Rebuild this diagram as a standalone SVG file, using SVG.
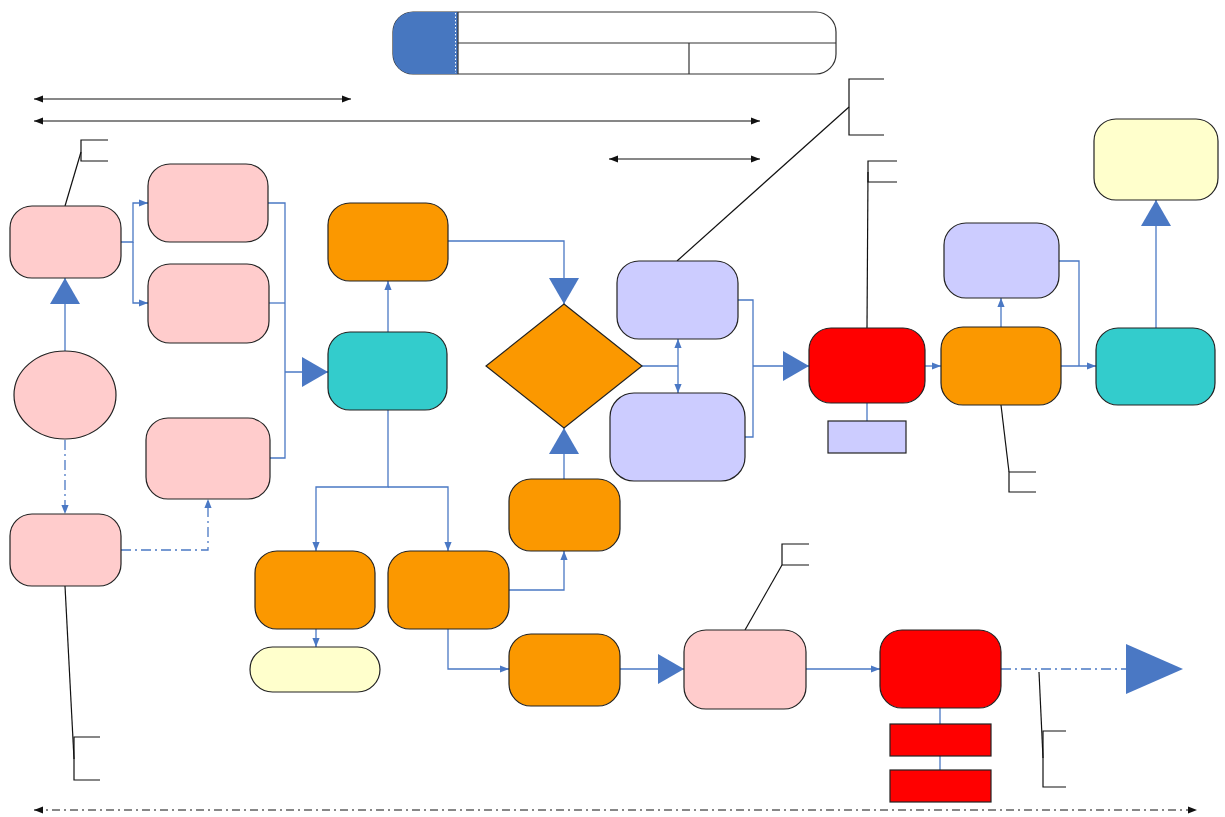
<svg xmlns="http://www.w3.org/2000/svg" width="1225" height="817" viewBox="0 0 1225 817">
<style>
.n{stroke:#222;stroke-width:1.2}
.pink{fill:#FFCCCC}.org{fill:#FB9800}.cyan{fill:#33CCCC}.lav{fill:#CCCCFF}.red{fill:#FF0000}.yel{fill:#FFFFCC}
.c{fill:none;stroke:#4A78C4;stroke-width:1.3}
.dd{stroke-dasharray:10 4 2 4}
.k{fill:none;stroke:#111;stroke-width:1.2}
.kd{fill:none;stroke:#111;stroke-width:1.2;stroke-dasharray:8 4 2 4}
</style>
<defs>
<marker id="s" viewBox="0 0 10 10" refX="10" refY="5" markerWidth="9" markerHeight="9" markerUnits="userSpaceOnUse" orient="auto-start-reverse"><path d="M0,1 L10,5 L0,9 z" fill="#4A78C4"/></marker>
<marker id="b" viewBox="0 0 26 30" refX="26" refY="15" markerWidth="26" markerHeight="30" markerUnits="userSpaceOnUse" orient="auto"><path d="M0,0 L26,15 L0,30 z" fill="#4A78C4"/></marker>
<marker id="ka" viewBox="0 0 10 10" refX="10" refY="5" markerWidth="11" markerHeight="9" markerUnits="userSpaceOnUse" orient="auto-start-reverse"><path d="M0,1 L10,5 L0,9 z" fill="#111"/></marker>
</defs>

<g id="title">
<rect x="393" y="12" width="443" height="62" rx="20" fill="#fff" stroke="#333" stroke-width="1.2"/>
<path d="M458,12 H413 A20,20 0 0 0 393,32 V54 A20,20 0 0 0 413,74 H458 Z" fill="#4777C0"/>
<line x1="455.5" y1="13" x2="455.5" y2="73" stroke="#fff" stroke-width="1" stroke-dasharray="1.5 2"/>
<line x1="458" y1="12" x2="458" y2="74" stroke="#333" stroke-width="1.2"/>
<line x1="458" y1="43" x2="836" y2="43" stroke="#333" stroke-width="1.2"/>
<line x1="689" y1="43" x2="689" y2="74" stroke="#333" stroke-width="1.2"/>
</g>

<g id="spans">
<line class="k" x1="34" y1="99" x2="351" y2="99" marker-start="url(#ka)" marker-end="url(#ka)"/>
<line class="k" x1="34" y1="121" x2="760" y2="121" marker-start="url(#ka)" marker-end="url(#ka)"/>
<line class="k" x1="609" y1="159" x2="760" y2="159" marker-start="url(#ka)" marker-end="url(#ka)"/>
<line class="kd" x1="34" y1="810" x2="1197" y2="810" marker-start="url(#ka)" marker-end="url(#ka)"/>
</g>

<g id="callouts">
<path class="k" d="M65,206 L81,152"/><path class="k" d="M108,140 H81 V161 H108"/>
<path class="k" d="M65,586 L74,759"/><path class="k" d="M100,737 H74 V780 H100"/>
<path class="k" d="M677,261 L849,107"/><path class="k" d="M884,79 H849 V135 H884"/>
<path class="k" d="M867,328 L868,172"/><path class="k" d="M897,161 H868 V182 H897"/>
<path class="k" d="M1001,405 L1009,472"/><path class="k" d="M1036,472 H1009 V492 H1036"/>
<path class="k" d="M745,630 L782,565"/><path class="k" d="M809,544 H782 V565 H809"/>
<path class="k" d="M1039,672 L1043,758"/><path class="k" d="M1066,731 H1043 V787 H1066"/>
</g>

<g id="connectors">
<path class="c" d="M65,351 V278" marker-end="url(#b)"/>
<path class="c" d="M121,242 H133 V203 H148" marker-end="url(#s)"/>
<path class="c" d="M133,242 V303 H148" marker-end="url(#s)"/>
<path class="c dd" d="M65,440 V514" marker-end="url(#s)"/>
<path class="c dd" d="M121,550 H208 V499" marker-end="url(#s)"/>
<path class="c" d="M268,203 H285 V458 H270"/>
<path class="c" d="M269,303 H285"/>
<path class="c" d="M285,372 H328" marker-end="url(#b)"/>
<path class="c" d="M388,332 V281" marker-end="url(#s)"/>
<path class="c" d="M448,241 H564 V304" marker-end="url(#b)"/>
<path class="c" d="M564,479 V428" marker-end="url(#b)"/>
<path class="c" d="M388,410 V487 H316 V551" marker-end="url(#s)"/>
<path class="c" d="M388,487 H448 V551" marker-end="url(#s)"/>
<path class="c" d="M509,590 H564 V551" marker-end="url(#s)"/>
<path class="c" d="M316,629 V647" marker-end="url(#s)"/>
<path class="c" d="M448,629 V669 H509" marker-end="url(#s)"/>
<path class="c" d="M620,669 H684" marker-end="url(#b)"/>
<path class="c" d="M806,669 H880" marker-end="url(#s)"/>
<path class="c" d="M940,708 V802"/>
<path class="c dd" d="M1001,669 H1126"/>
<polygon points="1126,644 1183,669 1126,694" fill="#4A78C4"/>
<path class="c" d="M642,366 H678"/>
<path class="c" d="M678,366 V339" marker-end="url(#s)"/>
<path class="c" d="M678,366 V393" marker-end="url(#s)"/>
<path class="c" d="M738,300 H753 V437 H745"/>
<path class="c" d="M753,366 H809" marker-end="url(#b)"/>
<path class="c" d="M867,403 V421"/>
<path class="c" d="M925,366 H941" marker-end="url(#s)"/>
<path class="c" d="M1001,327 V298" marker-end="url(#s)"/>
<path class="c" d="M1059,261 H1079 V366"/>
<path class="c" d="M1061,366 H1096" marker-end="url(#s)"/>
<path class="c" d="M1156,328 V200" marker-end="url(#b)"/>
</g>

<g id="nA"><rect class="n pink" x="10" y="206" width="111" height="72" rx="22"/></g>
<g id="nB"><rect class="n pink" x="148" y="164" width="120" height="78" rx="22"/></g>
<g id="nC"><rect class="n pink" x="148" y="264" width="121" height="79" rx="22"/></g>
<g id="nD"><rect class="n pink" x="146" y="418" width="124" height="81" rx="22"/></g>
<g id="nEllipse"><ellipse class="n pink" cx="65" cy="395" rx="51" ry="44"/></g>
<g id="nE"><rect class="n pink" x="10" y="514" width="111" height="72" rx="22"/></g>
<g id="nF"><rect class="n cyan" x="328" y="332" width="119" height="78" rx="22"/></g>
<g id="nG"><rect class="n org" x="328" y="203" width="120" height="78" rx="22"/></g>
<g id="nDiamond"><polygon class="n org" points="564,304 642,366 564,428 486,366"/></g>
<g id="nH"><rect class="n org" x="509" y="479" width="111" height="72" rx="22"/></g>
<g id="nI"><rect class="n org" x="255" y="551" width="120" height="78" rx="22"/></g>
<g id="nJ"><rect class="n org" x="388" y="551" width="121" height="78" rx="22"/></g>
<g id="nK"><rect class="n yel" x="250" y="647" width="130" height="45" rx="22.5"/></g>
<g id="nL"><rect class="n org" x="509" y="634" width="111" height="72" rx="22"/></g>
<g id="nM"><rect class="n pink" x="684" y="630" width="122" height="79" rx="22"/></g>
<g id="nN"><rect class="n red" x="880" y="630" width="121" height="78" rx="22"/></g>
<g id="nO"><rect class="n red" x="890" y="724" width="101" height="32"/></g>
<g id="nP"><rect class="n red" x="890" y="770" width="101" height="32"/></g>
<g id="nQ"><rect class="n lav" x="617" y="261" width="121" height="78" rx="22"/></g>
<g id="nR"><rect class="n lav" x="610" y="393" width="135" height="88" rx="24"/></g>
<g id="nS"><rect class="n red" x="809" y="328" width="116" height="75" rx="22"/></g>
<g id="nT"><rect class="n lav" x="828" y="421" width="78" height="32"/></g>
<g id="nU"><rect class="n org" x="941" y="327" width="120" height="78" rx="22"/></g>
<g id="nV"><rect class="n lav" x="944" y="223" width="115" height="75" rx="22"/></g>
<g id="nW"><rect class="n cyan" x="1096" y="328" width="119" height="77" rx="22"/></g>
<g id="nX"><rect class="n yel" x="1094" y="119" width="124" height="81" rx="22"/></g>
</svg>
